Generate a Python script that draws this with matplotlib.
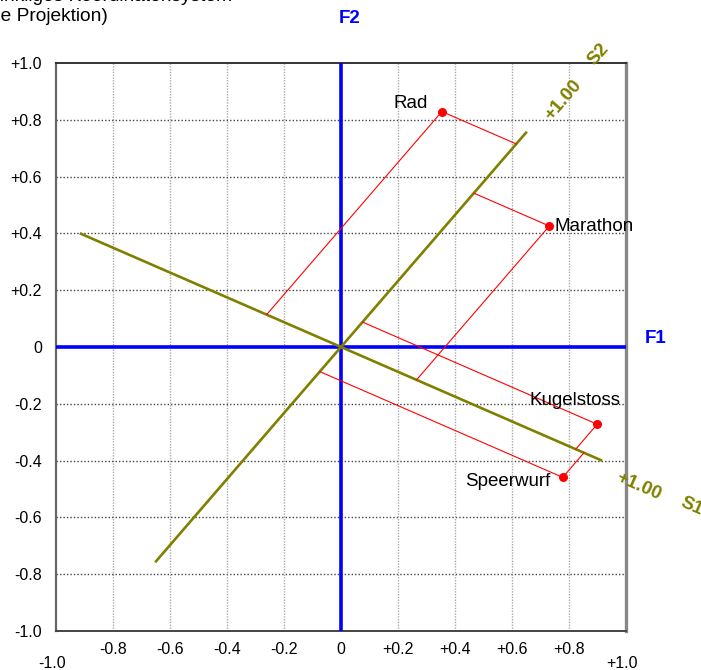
import numpy as np
import matplotlib
matplotlib.use("Agg")
import matplotlib.pyplot as plt

plt.rcParams['font.family'] = ['Liberation Sans', 'DejaVu Sans']

# Variables and their coordinates in the orthogonal factor space (F1, F2)
variables = ["Rad", "Marathon", "Kugelstoss", "Speerwurf"]
f1 = [0.354, 0.731, 0.899, 0.778]
f2 = [0.829, 0.426, -0.272, -0.459]

# Direction of the oblique axes S1, S2 (degrees from F1)
s1_angle = -23.6
s2_angle = 49.3

ticks = [-0.8, -0.6, -0.4, -0.2, 0, 0.2, 0.4, 0.6, 0.8]
tick_labels = ["-0.8", "-0.6", "-0.4", "-0.2", "0", "+0.2", "+0.4", "+0.6", "+0.8"]
yticks = [-1.0, -0.8, -0.6, -0.4, -0.2, 0, 0.2, 0.4, 0.6, 0.8, 1.0]
ytick_labels = ["-1.0", "-0.8", "-0.6", "-0.4", "-0.2", "0", "+0.2", "+0.4", "+0.6", "+0.8", "+1.0"]

# label offsets (points) and alignment for each variable
label_offsets = [(-10, 6), (4, 0), (17, 17), (-9, -3)]
label_ha = ["right", "left", "right", "right"]

OLIVE = "#808000"
BLUE = "#0000ff"
RED = "#ff0000"
TICK_FS = 11.5

fig = plt.figure(figsize=(7.01, 6.70), dpi=100)
ax = fig.add_axes([56 / 701, 1 - 631 / 670, 570 / 701, 568 / 670])
ax.set_xlim(-1, 1)
ax.set_ylim(-1, 1)

# grid
for t in ticks:
    if t == 0:
        continue
    ax.axvline(t, color="#aaaaaa", lw=1.0, ls=(0, (1, 1)), zorder=0)
    ax.axhline(t, color="#444444", lw=1.0, ls=(0, (1, 1.5)), zorder=0)

# factor axes F1, F2
ax.axhline(0, color=BLUE, lw=2.6, zorder=3)
ax.axvline(0, color=BLUE, lw=2.6, zorder=3)

# oblique axes S1, S2
u1 = np.array([np.cos(np.radians(s1_angle)), np.sin(np.radians(s1_angle))])
u2 = np.array([np.cos(np.radians(s2_angle)), np.sin(np.radians(s2_angle))])
for u in (u1, u2):
    ax.plot([-u[0], u[0]], [-u[1], u[1]], color=OLIVE, lw=1.9, zorder=4,
            solid_capstyle="butt")

# parallel projection of every variable onto S1 and S2
basis = np.column_stack([u1, u2])
for name, x, y, (dx, dy), ha in zip(variables, f1, f2, label_offsets, label_ha):
    a, b = np.linalg.solve(basis, [x, y])
    p1 = a * u1
    p2 = b * u2
    ax.plot([x, p1[0]], [y, p1[1]], color=RED, lw=0.8, zorder=5)
    ax.plot([x, p2[0]], [y, p2[1]], color=RED, lw=0.8, zorder=5)
    ax.plot([x], [y], "o", color=RED, ms=6.5, mec="none", zorder=6)
    ax.annotate(name, (x, y), xytext=(dx, dy), textcoords="offset points",
                ha=ha, va="center", fontsize=13.5, color="black", zorder=7)

# axis names
ax.text(1.105, 0.03, "F1", color=BLUE, fontsize=13.5, fontweight="bold",
        ha="center", va="center", clip_on=False)
ax.text(0.032, 1.155, "F2", color=BLUE, fontsize=13.5, fontweight="bold",
        ha="center", va="center", clip_on=False)

# oblique axis names and unit marks
ax.text(0.78, 0.87, "+1.00", color=OLIVE, fontsize=13.5, fontweight="bold",
        rotation=s2_angle, rotation_mode="anchor", ha="center", va="center", clip_on=False)
ax.text(0.905, 1.03, "S2", color=OLIVE, fontsize=13.5, fontweight="bold",
        rotation=s2_angle, rotation_mode="anchor", ha="center", va="center", clip_on=False)
ax.text(1.045, -0.49, "+1.00", color=OLIVE, fontsize=13.5, fontweight="bold",
        rotation=s1_angle, rotation_mode="anchor", ha="center", va="center", clip_on=False)
ax.text(1.23, -0.56, "S1", color=OLIVE, fontsize=13.5, fontweight="bold",
        rotation=s1_angle, rotation_mode="anchor", ha="center", va="center", clip_on=False)

# ticks
ax.set_xticks(ticks)
ax.set_xticklabels(tick_labels)
ax.set_yticks(yticks)
ax.set_yticklabels(ytick_labels)
ax.tick_params(axis="both", length=0, labelsize=TICK_FS)
ax.tick_params(axis="x", pad=8)
ax.tick_params(axis="y", pad=10)
for xv, lab in [(-1.0, "-1.0"), (1.0, "+1.0")]:
    ax.annotate(lab, (xv, 0), xycoords=("data", "axes fraction"),
                xytext=(-3, -18), textcoords="offset points",
                ha="center", va="top", fontsize=TICK_FS)

# frame
ax.spines["top"].set_color("#333333")
ax.spines["top"].set_linewidth(1.4)
ax.spines["bottom"].set_color("#444444")
ax.spines["bottom"].set_linewidth(1.4)
ax.spines["left"].set_color("#666666")
ax.spines["left"].set_linewidth(1.6)
ax.spines["right"].set_color("#888888")
ax.spines["right"].set_linewidth(2.4)

# heading (partly outside the canvas)
line2 = fig.text(108 / 701, 1 - 21 / 670, "(parallele Projektion)", fontsize=13.8,
                 ha="right", va="baseline")
fig.canvas.draw()
x0 = line2.get_window_extent().x0 / fig.bbox.width
fig.text(x0, 1 - 1 / 670, "Schiefwinkliges Koordinatensystem", fontsize=13.8,
         ha="left", va="baseline")

fig.savefig("out.png", dpi=100)
